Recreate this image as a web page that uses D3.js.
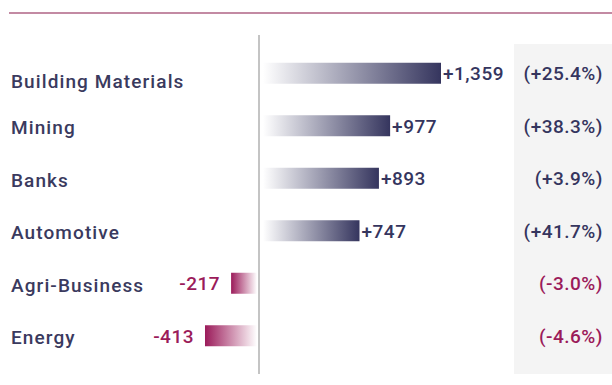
<!DOCTYPE html>
<html>
<head>
<meta charset="utf-8">
<script src="https://cdn.jsdelivr.net/npm/d3@7"></script>
<style>
  html, body { margin: 0; padding: 0; background: #fff; }
  svg { display: block; font-family: Roboto, "DejaVu Sans", sans-serif; }
</style>
</head>
<body>
<div id="chart"></div>
<script>
// sectors and their change
var sectors = ['Building Materials', 'Mining', 'Banks', 'Automotive', 'Agri-Business', 'Energy'];
var changes = [1359, 977, 893, 747, -217, -413];
var changeLabels = ['+1,359', '+977', '+893', '+747', '-217', '-413'];
var pctLabels = ['(+25.4%)', '(+38.3%)', '(+3.9%)', '(+41.7%)', '(-3.0%)', '(-4.6%)'];

var width = 612, height = 385;
var navy = '#35355e', magenta = '#9b1b5a';

var svg = d3.select('#chart').append('svg')
    .attr('width', width)
    .attr('height', height);

var x = d3.scaleLinear().domain([0, d3.max(changes)]).range([260, 441]);
var y = d3.scaleBand().domain(sectors).range([47, 362]).paddingInner(0.6).paddingOuter(0.3);

var rows = sectors.map(function (s, i) {
    return {name: s, value: changes[i], label: changeLabels[i], pct: pctLabels[i]};
});

// top rule
svg.append('line')
    .attr('x1', 9).attr('x2', width)
    .attr('y1', 13).attr('y2', 13)
    .attr('stroke', '#c38aa3').attr('stroke-width', 2);

// grey panel behind percentages
svg.append('rect')
    .attr('x', 514).attr('y', 44)
    .attr('width', width - 514).attr('height', 330)
    .attr('fill', '#f4f4f4');

// zero axis
svg.append('line')
    .attr('x1', x(0) - 1).attr('x2', x(0) - 1)
    .attr('y1', 35).attr('y2', 374)
    .attr('stroke', '#b0b0b0').attr('stroke-width', 1.5);

var defs = svg.append('defs');
rows.forEach(function (d, i) {
    var pos = d.value >= 0,
        c = pos ? navy : magenta;
    var g = defs.append('linearGradient')
        .attr('id', 'grad' + i)
        .attr('x1', 0).attr('x2', 1).attr('y1', 0).attr('y2', 0);
    g.append('stop').attr('offset', '0%').attr('stop-color', c).attr('stop-opacity', pos ? 0 : 1);
    g.append('stop').attr('offset', '100%').attr('stop-color', c).attr('stop-opacity', pos ? 1 : 0);
});

var row = svg.selectAll('g.row')
    .data(rows)
    .enter().append('g')
    .attr('class', 'row');

row.append('rect')
    .attr('x', function (d) { return d.value >= 0 ? x(0) + 3 : x(d.value); })
    .attr('y', function (d) { return y(d.name); })
    .attr('width', function (d) { return d.value >= 0 ? x(d.value) - x(0) - 3 : x(0) - 3 - x(d.value); })
    .attr('height', y.bandwidth())
    .attr('fill', function (d, i) { return 'url(#grad' + i + ')'; });

var mid = function (d) { return y(d.name) + y.bandwidth() / 2; };

row.append('text')
    .attr('x', 11)
    .attr('y', function (d, i) { return mid(d) + (i === 0 ? 8 : 1.5); })
    .attr('dy', '0.36em')
    .attr('font-size', 19)
    .attr('font-weight', 500)
    .attr('letter-spacing', 1.1)
    .attr('fill', '#3a3a5e')
    .text(function (d) { return d.name; });

row.append('text')
    .attr('x', function (d) { return d.value >= 0 ? x(d.value) + 2 : x(d.value) - 11; })
    .attr('y', mid)
    .attr('dy', '0.36em')
    .attr('text-anchor', function (d) { return d.value >= 0 ? 'start' : 'end'; })
    .attr('font-size', 19)
    .attr('font-weight', 500)
    .attr('letter-spacing', 0.5)
    .attr('fill', function (d) { return d.value >= 0 ? navy : magenta; })
    .text(function (d) { return d.label; });

row.append('text')
    .attr('x', 603)
    .attr('y', mid)
    .attr('dy', '0.36em')
    .attr('text-anchor', 'end')
    .attr('font-size', 19)
    .attr('font-weight', 500)
    .attr('letter-spacing', 0.5)
    .attr('fill', function (d) { return d.value >= 0 ? navy : magenta; })
    .text(function (d) { return d.pct; });
</script>
</body>
</html>
